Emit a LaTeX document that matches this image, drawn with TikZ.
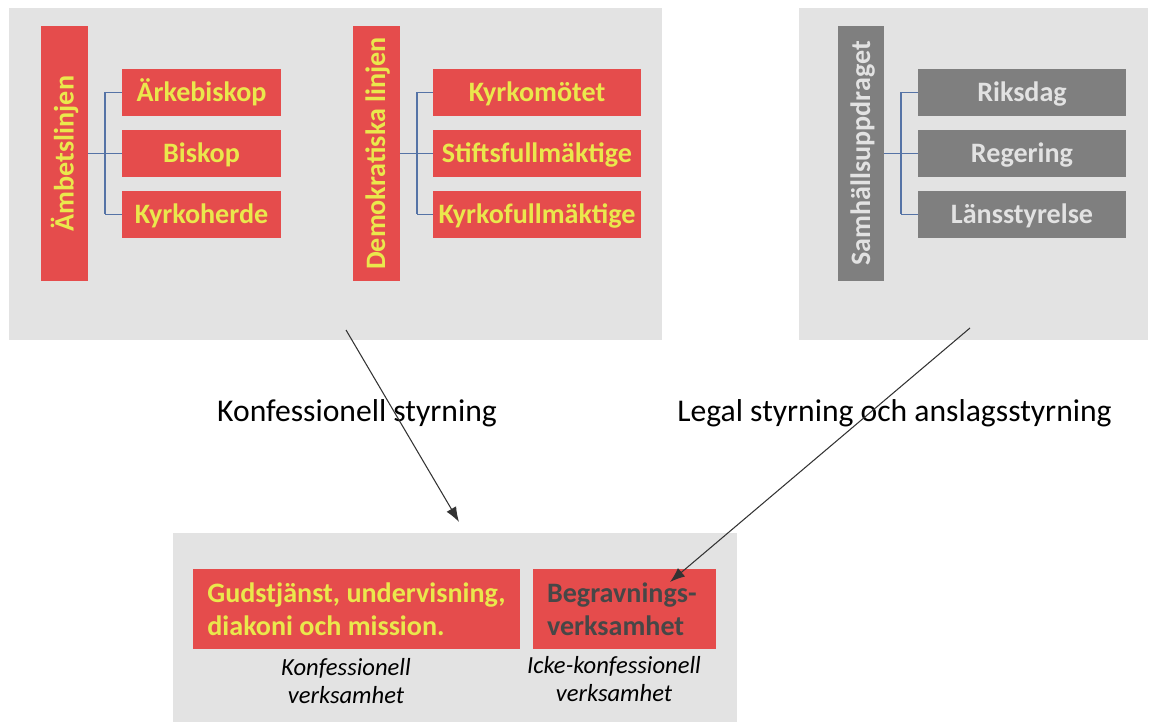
\documentclass[tikz,border=0pt]{standalone}
\usepackage{fontspec}
\setmainfont{Carlito}
\usetikzlibrary{arrows.meta,positioning}
\definecolor{panelgray}{HTML}{E3E3E3}
\definecolor{boxred}{HTML}{E54C4C}
\definecolor{txtyellow}{HTML}{EAE84C}
\definecolor{boxgray}{HTML}{7F7F7F}
\definecolor{txtlight}{HTML}{E2E2E2}
\definecolor{treeblue}{HTML}{5573A6}
\definecolor{txtdark}{HTML}{474747}
\tikzset{
  panel/.style={fill=panelgray,draw=none},
  redbox/.style={fill=boxred,draw=none,text=txtyellow,font=\fontsize{16}{19}\selectfont\bfseries,inner sep=0pt,text height=13pt,text depth=2.7pt},
  graybox/.style={redbox,fill=boxgray,text=txtlight},
  item/.style={minimum width=#1,minimum height=0.94cm},
  bar/.style={rotate=90,minimum width=5.1cm,minimum height=0.94cm},
  tree/.style={draw=treeblue,line width=.85pt},
  flow/.style={draw=black!80,line width=.6pt,-{Latex[length=3mm,width=2.2mm]}},
  caption/.style={font=\fontsize{18}{21}\selectfont},
  note/.style={font=\fontsize{14}{16}\selectfont\itshape,align=center}
}
\begin{document}
\begin{tikzpicture}[x=0.02cm,y=-0.02cm]
\useasboundingbox (0,0) rectangle (1149,722);
\fill[panel] (9,8) rectangle (662,340);
\fill[panel] (799,8) rectangle (1148,340);
\fill[panel] (173,533) rectangle (737,722);
% ämbetslinjen
\node[redbox,bar] (amb) at (64.5,153.5) {Ämbetslinjen};
\node[redbox,item=3.18cm] (ark) at (201.5,92.5) {Ärkebiskop};
\node[redbox,item=3.18cm] (bis) at (201.5,153.5) {Biskop};
\node[redbox,item=3.18cm] (kyh) at (201.5,214.5) {Kyrkoherde};
\coordinate (jA) at (105,153.5);
\draw[tree] (amb.south) -- (jA);
\draw[tree] (jA |- ark) -- (jA |- kyh);
\draw[tree] (jA |- ark) -- (ark.west);
\draw[tree] (jA) -- (bis.west);
\draw[tree] (jA |- kyh) -- (kyh.west);
% demokratiska linjen
\node[redbox,bar] (dem) at (376,153.5) {Demokratiska linjen};
\node[redbox,item=4.16cm] (kmo) at (537,92.5) {Kyrkomötet};
\node[redbox,item=4.16cm] (sfm) at (537,153.5) {Stiftsfullmäktige};
\node[redbox,item=4.16cm] (kfm) at (537,214.5) {Kyrkofullmäktige};
\coordinate (jD) at (417,153.5);
\draw[tree] (dem.south) -- (jD);
\draw[tree] (jD |- kmo) -- (jD |- kfm);
\draw[tree] (jD |- kmo) -- (kmo.west);
\draw[tree] (jD) -- (sfm.west);
\draw[tree] (jD |- kfm) -- (kfm.west);
% samhällsuppdraget
\node[graybox,bar,minimum height=0.92cm] (sam) at (861,153.5) {Samhällsuppdraget};
\node[graybox,item=4.16cm] (rik) at (1022,92.5) {Riksdag};
\node[graybox,item=4.16cm] (reg) at (1022,153.5) {Regering};
\node[graybox,item=4.16cm] (lan) at (1022,214.5) {Länsstyrelse};
\coordinate (jS) at (901,153.5);
\draw[tree] (sam.south) -- (jS);
\draw[tree] (jS |- rik) -- (jS |- lan);
\draw[tree] (jS |- rik) -- (rik.west);
\draw[tree] (jS) -- (reg.west);
\draw[tree] (jS |- lan) -- (lan.west);
% verksamhet
\node[redbox,minimum width=6.54cm,minimum height=1.6cm,align=left,text height=,text depth=] (gud) at (356.5,609) {Gudstjänst, undervisning,\\diakoni och mission.};
\node[redbox,text=txtdark,minimum width=3.66cm,minimum height=1.6cm,align=left,text width=3.1cm,text height=,text depth=] (beg) at (624.5,609) {Begravnings-\\verksamhet};
\node[note] (konf) at (346,681) {Konfessionell\\verksamhet};
\node[note] (icke) at (614,679) {Icke-konfessionell\\verksamhet};
% styrning
\node[caption] (kst) at (357,413) {Konfessionell styrning};
\node[caption] (lst) at (894.5,413) {Legal styrning och anslagsstyrning};
\coordinate (kFrom) at (346,330);
\coordinate (kTo) at (459,522);
\coordinate (lFrom) at (970,328);
\coordinate (lTo) at (670,582);
\draw[flow] (kFrom) -- (kTo);
\draw[flow] (lFrom) -- (lTo);
\end{tikzpicture}
\end{document}
